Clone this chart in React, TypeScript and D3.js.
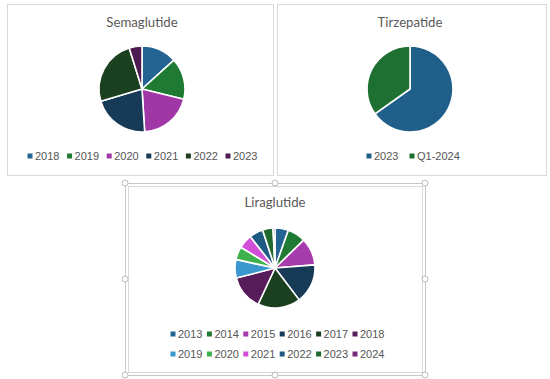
import React from "react";
import * as d3 from "d3";

// Semaglutide
const semaYears = ["2018", "2019", "2020", "2021", "2022", "2023"];
const semaValues = [13.3, 15.5, 20.2, 21.4, 24.8, 4.8];
const semaColors = ["#236492", "#1f7a34", "#a137a6", "#173b57", "#1b4020", "#4d1b4f"];

// Tirzepatide
const tirzLabels = ["2023", "Q1-2024"];
const tirzValues = [65.2, 34.8];
const tirzColors = ["#1f5f8a", "#1e7032"];

// Liraglutide
const liraYears = ["2013", "2014", "2015", "2016", "2017", "2018", "2019", "2020", "2021", "2022", "2023", "2024"];
const liraValues = [5.4, 7.3, 11.0, 15.9, 17.2, 14.0, 7.5, 5.2, 5.7, 5.6, 4.2, 0.8];
const liraColors = [
  "#236492", "#1f7a34", "#a63bab", "#173b57", "#1b4020", "#571b5a",
  "#3a98cf", "#3db14b", "#d04fd6", "#1f5a82", "#1f6a2c", "#76287a",
];

const titleFont = "Lato, 'Open Sans', sans-serif";
const legendFont = "'Liberation Sans', Arial, sans-serif";
const grey = "#595959";

type PieProps = {
  title: string;
  labels: string[];
  values: number[];
  colors: string[];
  cx: number;
  cy: number;
  r: number;
  titleY: number;
  legendX: number[];
  legendY: number[];
  perRow: number;
};

const PieBlock = ({ title, labels, values, colors, cx, cy, r, titleY, legendX, legendY, perRow }: PieProps) => {
  const pie = d3.pie<number>().sort(null).value((d) => d);
  const arc = d3.arc<d3.PieArcDatum<number>>().innerRadius(0).outerRadius(r);
  const arcs = pie(values);

  return (
    <g>
      <text x={cx} y={titleY} textAnchor="middle" fontFamily={titleFont} fontSize={13.2} fill={grey}>
        {title}
      </text>
      <g transform={`translate(${cx},${cy})`}>
        {arcs.map((a, i) => (
          <path key={i} d={arc(a) || ""} fill={colors[i]} stroke="#fff" strokeWidth={1.6} strokeLinejoin="round" />
        ))}
      </g>
      {labels.map((l, i) => {
        const x = legendX[i % perRow];
        const y = legendY[Math.floor(i / perRow)];
        return (
          <g key={l}>
            <rect x={x - 2.5} y={y - 2.5} width={5} height={5} fill={colors[i]} />
            <text x={x + 5} y={y + 4} fontFamily={legendFont} fontSize={11} fill="#555">
              {l}
            </text>
          </g>
        );
      })}
    </g>
  );
};

const handles: [number, number][] = [
  [125, 183], [275, 183], [425, 183],
  [125, 279], [425, 279],
  [125, 375], [275, 375], [425, 375],
];

const App = () => {
  const semaX = d3.range(6).map((i) => 30 + i * 39.6);
  const tirzX = [369, 412];
  const liraX = d3.range(6).map((i) => 173 + i * 36.4);

  return (
    <svg
      width={550}
      height={379}
      style={{ position: "absolute", left: 0, top: 0, background: "#fff" }}
    >
      <rect x={7.5} y={4.5} width={266} height={171} fill="#fff" stroke="#d9d9d9" />
      <rect x={277.5} y={4.5} width={269} height={171} fill="#fff" stroke="#d9d9d9" />
      <rect x={125.5} y={183.5} width={300} height={192} fill="none" stroke="#c8c8c8" />
      <rect x={128.5} y={186.5} width={294} height={186} fill="#fff" stroke="#d9d9d9" />
      {handles.map(([x, y], i) => (
        <circle key={i} cx={x} cy={y} r={3} fill="#fff" stroke="#aaa" strokeWidth={0.8} />
      ))}

      <PieBlock
        title="Semaglutide"
        labels={semaYears}
        values={semaValues}
        colors={semaColors}
        cx={142}
        cy={89}
        r={43}
        titleY={27}
        legendX={semaX}
        legendY={[156]}
        perRow={6}
      />
      <PieBlock
        title="Tirzepatide"
        labels={tirzLabels}
        values={tirzValues}
        colors={tirzColors}
        cx={410}
        cy={89}
        r={43}
        titleY={27}
        legendX={tirzX}
        legendY={[156]}
        perRow={2}
      />
      <PieBlock
        title="Liraglutide"
        labels={liraYears}
        values={liraValues}
        colors={liraColors}
        cx={275}
        cy={268}
        r={40}
        titleY={207}
        legendX={liraX}
        legendY={[334, 354]}
        perRow={6}
      />
    </svg>
  );
};

export default App;
